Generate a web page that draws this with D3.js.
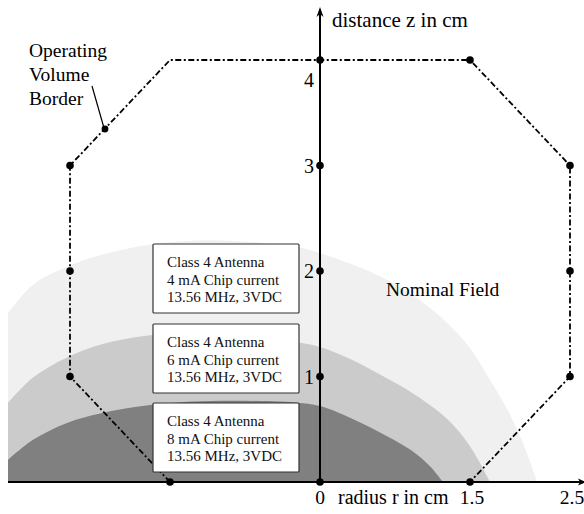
<!DOCTYPE html>
<html><head><meta charset="utf-8">
<script src="https://cdn.jsdelivr.net/npm/d3@7"></script>
<style>html,body{margin:0;padding:0;background:#fff;}svg{display:block;}</style>
</head><body>
<svg id="c" width="584" height="514"></svg>
<script>
// ---- data ----
const yTicks = [1, 2, 3, 4];
const xTicks = [0, 1.5, 2.5];
const octagon = [[-1.5,0],[-2.5,1],[-2.5,2],[-2.5,3],[-1.5,4],[0,4],[1.5,4],[2.5,3],[2.5,2],[2.5,1],[1.5,0]];
const octagonDots = [[-1.5,0],[-2.5,1],[-2.5,2],[-2.5,3],[0,4],[1.5,4],[2.5,3],[2.5,2],[2.5,1],[1.5,0]];
const axisDots = [[0,0],[0,1],[0,2],[0,3]];
const field4mA = [[-3.12,1.60],[-2.87,1.87],[-2.53,2.04],[-2.20,2.15],[-1.70,2.25],[-1.00,2.29],[-0.20,2.22],[0,2.17],[0.27,2.08],[0.60,1.95],[0.93,1.77],[1.27,1.51],[1.50,1.27],[1.70,0.97],[1.90,0.64],[2.05,0.32],[2.17,0]];
const field6mA = [[-3.12,0.75],[-2.87,0.99],[-2.53,1.18],[-2.20,1.30],[-1.70,1.39],[-1.00,1.41],[-0.20,1.32],[0,1.28],[0.27,1.18],[0.60,1.02],[0.93,0.84],[1.27,0.60],[1.50,0.34],[1.70,0]];
const field8mA = [[-3.12,0.21],[-2.87,0.40],[-2.53,0.56],[-2.20,0.65],[-1.70,0.73],[-1.00,0.77],[-0.20,0.75],[0,0.72],[0.30,0.61],[0.60,0.47],[0.93,0.29],[1.10,0.15],[1.23,0]];
const boxLabels = [
  ["Class 4 Antenna","4 mA Chip current","13.56 MHz, 3VDC"],
  ["Class 4 Antenna","6 mA Chip current","13.56 MHz, 3VDC"],
  ["Class 4 Antenna","8 mA Chip current","13.56 MHz, 3VDC"]
];
const borderLabel = ["Operating","Volume","Border"];

// ---- drawing ----
const svg = d3.select("#c");
const font = "'Liberation Serif','Times New Roman',Times,serif";
const x = d3.scaleLinear().domain([0, 2.5]).range([320, 570]);
const y = d3.scaleLinear().domain([0, 4]).range([482, 60]);

const area = d3.area().x(d=>x(d[0])).y0(y(0)).y1(d=>y(d[1])).curve(d3.curveCatmullRom.alpha(0.5));
[[field4mA,"#f0f0f0"],[field6mA,"#cbcbcb"],[field8mA,"#808080"]].forEach(([d,c])=>{
  svg.append("path").attr("d", area(d)).attr("fill", c);
});

// octagon
svg.append("path")
  .attr("d", d3.line().x(d=>x(d[0])).y(d=>y(d[1]))(octagon))
  .attr("fill","none").attr("stroke","#000").attr("stroke-width",1.8)
  .attr("stroke-dasharray","6,2.5,2,2.5");

// axes
svg.append("line").attr("x1", x(-3.12)).attr("x2", 584).attr("y1", y(0)).attr("y2", y(0))
  .attr("stroke","#000").attr("stroke-width",2);
svg.append("line").attr("x1", x(0)).attr("x2", x(0)).attr("y1", y(0)).attr("y2", 12)
  .attr("stroke","#000").attr("stroke-width",2);
svg.append("path").attr("d", `M${x(0)},7 L${x(0)-3.5},17 L${x(0)},14 L${x(0)+3.5},17 Z`).attr("fill","#000");
svg.append("path").attr("d", `M586,${y(0)} L578,${y(0)-3.5} L580,${y(0)} L578,${y(0)+3.5} Z`).attr("fill","#000");

// boxes
const boxTops = [244, 324, 403];
boxLabels.forEach((lines,i)=>{
  const g = svg.append("g");
  g.append("rect").attr("x",153).attr("y",boxTops[i]).attr("width",146).attr("height",69)
    .attr("fill","#fff").attr("stroke","#333").attr("stroke-width",1.2).attr("rx",1);
  lines.forEach((t,j)=>{
    g.append("text").attr("x",167).attr("y",boxTops[i]+23+j*17.5)
      .attr("font-family",font).attr("font-size",15).attr("fill","#111").text(t);
  });
});

// dots
svg.selectAll("circle.o").data(octagonDots.concat(axisDots)).enter().append("circle")
  .attr("cx",d=>x(d[0])).attr("cy",d=>y(d[1])).attr("r",3.8).attr("fill","#000");

// y tick labels
svg.selectAll("text.yt").data(yTicks).enter().append("text")
  .attr("x", x(0)-6).attr("y", d=> d===4 ? y(d)+27 : y(d)+7)
  .attr("text-anchor","end").attr("font-family",font).attr("font-size",20).text(d=>d);
// x tick labels
svg.selectAll("text.xt").data(xTicks).enter().append("text")
  .attr("x", d=>x(d)+(d===0?0:2)).attr("y", 504)
  .attr("text-anchor","middle").attr("font-family",font).attr("font-size",19.5).text(d=>d);

svg.append("text").attr("x",338).attr("y",504).attr("font-family",font).attr("font-size",20).text("radius r in cm");
svg.append("text").attr("x",332).attr("y",27).attr("font-family",font).attr("font-size",21).text("distance z in cm");
svg.append("text").attr("x",386).attr("y",296).attr("font-family",font).attr("font-size",19.5).text("Nominal Field");

borderLabel.forEach((t,i)=>{
  svg.append("text").attr("x",29).attr("y",57+i*24).attr("font-family",font).attr("font-size",19.5).text(t);
});
svg.append("line").attr("x1",92).attr("y1",86).attr("x2",104).attr("y2",128).attr("stroke","#000").attr("stroke-width",1.2);
svg.append("circle").attr("cx",105).attr("cy",129).attr("r",3.4).attr("fill","#000");
</script>
</body></html>
